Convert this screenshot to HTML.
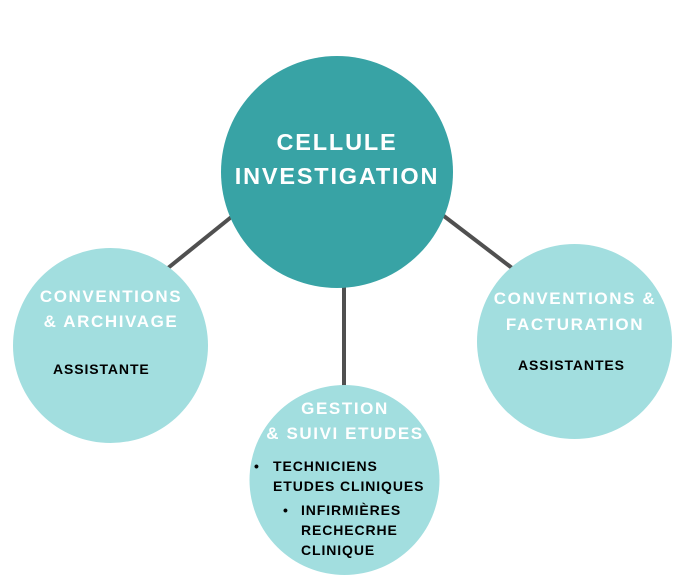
<!DOCTYPE html>
<html><head><meta charset="utf-8"><style>
body{margin:0;width:686px;height:588px;background:#fff;position:relative;overflow:hidden;font-family:"Liberation Sans",sans-serif;font-weight:bold}
.t{position:absolute;white-space:nowrap;text-align:center}
.w{color:#fff;letter-spacing:1.6px}
.k{color:#000;letter-spacing:0.9px;font-size:14px}
</style></head><body>
<svg width="686" height="588" style="position:absolute;left:0;top:0">
<g stroke="#505050" stroke-width="4">
<line x1="240" y1="210" x2="168" y2="268"/>
<line x1="436" y1="210" x2="512" y2="268"/>
<line x1="344" y1="270" x2="344" y2="388"/>
</g>
<circle cx="337" cy="172" r="116" fill="#38a3a5"/>
<circle cx="110.5" cy="345.5" r="97.5" fill="#a2dedf"/>
<circle cx="574.5" cy="341.5" r="97.5" fill="#a2dedf"/>
<circle cx="344.5" cy="480" r="95" fill="#a2dedf"/>
</svg>
<div class="t w" style="left:227px;top:125px;width:220px;font-size:23.5px;line-height:34px;letter-spacing:1.8px">CELLULE<br>INVESTIGATION</div>
<div class="t w" style="left:12px;top:284px;width:198px;font-size:17px;line-height:25px">CONVENTIONS<br>&amp; ARCHIVAGE</div>
<div class="t k" style="left:53px;top:361px;text-align:left">ASSISTANTE</div>
<div class="t w" style="left:476px;top:286px;width:198px;font-size:17px;line-height:26px">CONVENTIONS &amp;<br>FACTURATION</div>
<div class="t k" style="left:518px;top:357px;text-align:left">ASSISTANTES</div>
<div class="t w" style="left:245px;top:396px;width:200px;font-size:17px;line-height:25px">GESTION<br>&amp; SUIVI ETUDES</div>
<div class="t k" style="left:254px;top:456px;line-height:20px;text-align:left">•</div>
<div class="t k" style="left:273px;top:456px;line-height:20px;text-align:left">TECHNICIENS<br>ETUDES CLINIQUES</div>
<div class="t k" style="left:283px;top:500px;line-height:20px;text-align:left">•</div>
<div class="t k" style="left:301px;top:500px;line-height:20px;text-align:left">INFIRMIÈRES<br>RECHECRHE<br>CLINIQUE</div>
</body></html>
